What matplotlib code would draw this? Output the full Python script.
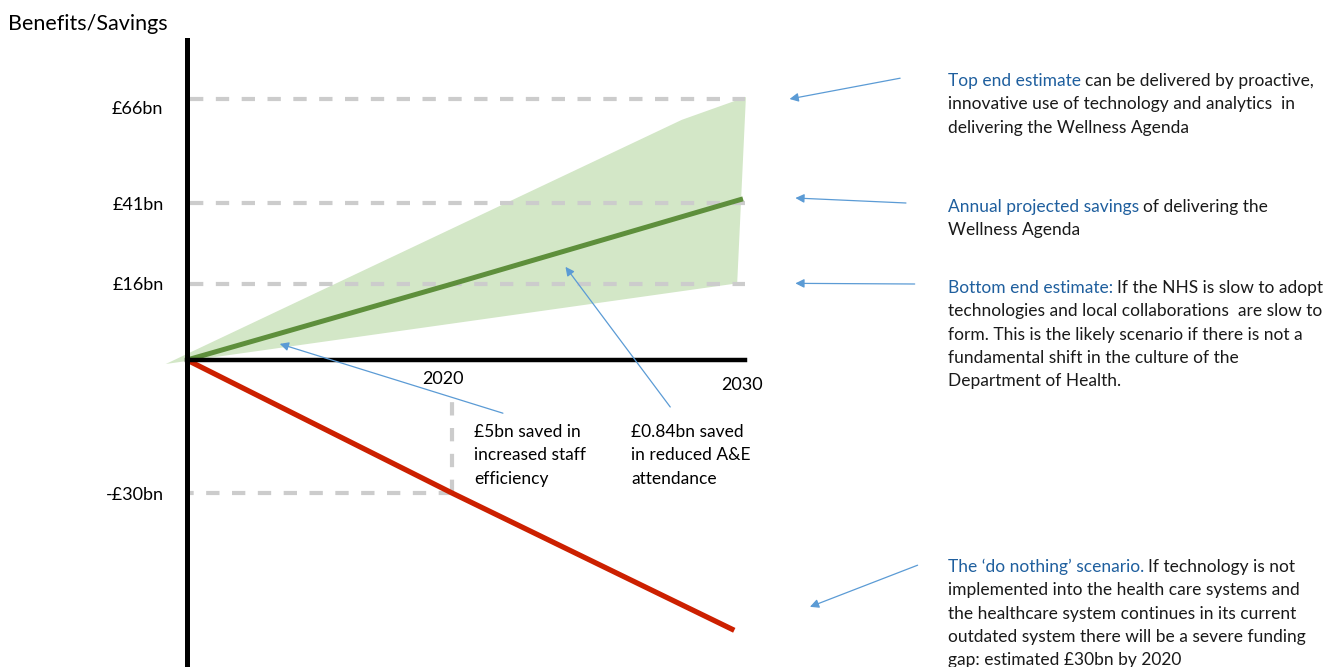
import numpy as np
import matplotlib
matplotlib.use("Agg")
import matplotlib.pyplot as plt
import matplotlib.transforms as mtransforms

plt.rcParams['font.family'] = ['Lato', 'DejaVu Sans']

# --- data -------------------------------------------------------------
years_axis = [2020, 2030]
level_values = [66, 41, 16, -30]
level_labels = ['£66bn', '£41bn', '£16bn', '-£30bn']

savings_years = [2010, 2020, 2030]
savings_values = [0, 16, 42]

nothing_years = [2010, 2020, 2029.7]
nothing_values = [0, -30, -61]

band_years = [2009.2, 2027.9, 2030.1, 2029.8]
band_values = [-0.9, 61, 66.5, 16.2]

# --- colours ----------------------------------------------------------
BLUE_HEAD = '#1f5f9e'
BLUE_ARROW = '#5b9bd5'
GREEN_LINE = '#5e8f3c'
GREEN_FILL = '#d3e7c7'
RED = '#cc2000'
GREY = '#cccccc'

W, H = 1344, 667
fig = plt.figure(figsize=(W / 100, H / 100), dpi=100)
ax = fig.add_axes([0, 0, 1, 1])

# schematic (piecewise linear) scales, in pixels
yr_knots = [1990, 2010, 2020, 2030, 2080]
yr_px = [-343, 187, 452, 743, 2198]
val_knots = [-200, -30, 0, 16, 41, 66, 300]
val_px = [-886, -133, 0, 76, 157, 261, 1197]
x_fwd = lambda v: np.interp(v, yr_knots, yr_px)
x_inv = lambda p: np.interp(p, yr_px, yr_knots)
y_fwd = lambda v: np.interp(v, val_knots, val_px)
y_inv = lambda p: np.interp(p, val_px, val_knots)
ax.set_xscale('function', functions=(x_fwd, x_inv))
ax.set_yscale('function', functions=(y_fwd, y_inv))
ax.set_xlim(float(x_inv(0)), float(x_inv(W)))
x_axis_row = 360
ax.set_ylim(float(y_inv(x_axis_row - H)), float(y_inv(x_axis_row)))


def px(x, y):
    return x / W, 1 - y / H


def guide(xs, ys):
    ln, = ax.plot(xs, ys, color=GREY, lw=3, zorder=2)
    ln.set_dashes([3.2, 3.0])


# shaded range between bottom and top end estimates
ax.fill(band_years, band_values, color=GREEN_FILL, lw=0, zorder=1)

# dashed guide lines
for v in level_values[:3]:
    guide([2010.1, 2030.07], [v, v])
guide([2020, 2010.1], [-30, -30])
guide([2020, 2020], [-30, -8.4])

ax.plot(savings_years, savings_values, color=GREEN_LINE, lw=3.6,
        solid_capstyle='butt', zorder=3)
ax.plot(nothing_years, nothing_values, color=RED, lw=3.8,
        solid_capstyle='butt', zorder=3)

# axes
for s in ['top', 'right']:
    ax.spines[s].set_visible(False)
ax.spines['left'].set_position(('data', 2010))
ax.spines['bottom'].set_position(('data', 0))
ax.spines['left'].set_linewidth(3.6)
ax.spines['bottom'].set_linewidth(3.2)
ax.spines['left'].set_bounds(ax.get_ylim()[0], float(y_inv(x_axis_row - 40)))
ax.spines['bottom'].set_bounds(2010, 2030.07)
ax.spines['left'].set_zorder(4)
ax.spines['bottom'].set_zorder(4)

ax.set_yticks(level_values, level_labels, fontsize=13)
ax.tick_params(axis='y', length=0, pad=17)
ax.set_xticks([])
lab66 = ax.get_yticklabels()[0]
lab66.set_transform(lab66.get_transform() +
                    mtransforms.ScaledTranslation(0, -0.08, fig.dpi_scale_trans))

ax.annotate('2020', xy=(years_axis[0], 0), xytext=(-9, -19),
            textcoords='offset pixels', ha='center', va='center', fontsize=13)
ax.annotate('2030', xy=(years_axis[1], 0), xytext=(-1, -25),
            textcoords='offset pixels', ha='center', va='center', fontsize=13)

fig.text(*px(8, 24), 'Benefits/Savings', fontsize=15.5, va='center', ha='left')

# pointer arrows
arrow_kw = dict(arrowstyle='-|>', color=BLUE_ARROW, lw=0.9,
                mutation_scale=13, shrinkA=0, shrinkB=0)
pointers = [
    ((2031.6, 66), (2035.4, 71.2)),
    ((2031.8, 42.2), (2035.6, 41)),
    ((2031.8, 16.2), (2035.9, 16)),
    ((2032.3, -55.7), (2036.0, -46.3)),
    ((2013.5, 3.4), (2021.75, -12.0)),
    ((2023.9, 21.3), (2027.5, -10.6)),
]
for head, tail in pointers:
    ax.annotate('', xy=head, xytext=tail, arrowprops=arrow_kw,
                annotation_clip=False, zorder=5)

# text in the plot
fs = 12.5
dy = 23.3
for x0, y0, lines in [
        (474, 437, ['£5bn saved in', 'increased staff', 'efficiency']),
        (631, 437, ['£0.84bn saved', 'in reduced A&E', 'attendance'])]:
    for i, line in enumerate(lines):
        fig.text(*px(x0, y0 + i * dy), line, fontsize=fs, va='baseline')


def note(x0, y0, head, lines):
    t = fig.text(*px(x0, y0), head, color=BLUE_HEAD, fontsize=fs,
                 va='baseline')
    ax.annotate(lines[0], xy=(1, 0), xycoords=t, xytext=(4, 0),
                textcoords='offset pixels', fontsize=fs, va='bottom',
                ha='left', color='#1a1a1a')
    for i, line in enumerate(lines[1:], start=1):
        fig.text(*px(x0, y0 + i * dy), line, fontsize=fs, va='baseline',
                 color='#1a1a1a')


note(948, 86, 'Top end estimate',
     ['can be delivered by proactive,',
      'innovative use of technology and analytics  in',
      'delivering the Wellness Agenda'])
note(948, 212, 'Annual projected savings',
     ['of delivering the', 'Wellness Agenda'])
note(948, 293, 'Bottom end estimate:',
     ['If the NHS is slow to adopt',
      'technologies and local collaborations  are slow to',
      'form. This is the likely scenario if there is not a',
      'fundamental shift in the culture of the',
      'Department of Health.'])
note(948, 572, 'The \u2018do nothing\u2019 scenario.',
     ['If technology is not',
      'implemented into the health care systems and',
      'the healthcare system continues in its current',
      'outdated system there will be a severe funding',
      'gap: estimated £30bn by 2020'])

fig.savefig('out.png', dpi=100)
